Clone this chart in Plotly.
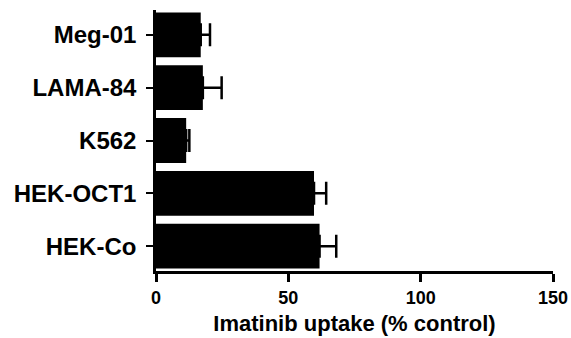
import plotly.graph_objects as go

categories = ["HEK-Co", "HEK-OCT1", "K562", "LAMA-84", "Meg-01"]
uptake = [61.8, 59.7, 11.4, 17.7, 16.9]
err_plus = [6.3, 4.6, 1.2, 7.1, 3.5]
err_minus = [0, 0, 0, 0, 0]
x_ticks = [0, 50, 100, 150]

FONT = "Liberation Sans, Arial, sans-serif"

fig = go.Figure(go.Bar(
    x=uptake, y=categories, orientation="h",
    marker=dict(color="black", line=dict(width=0)),
    error_x=dict(type="data", symmetric=False, array=err_plus, arrayminus=err_minus,
                 color="black", thickness=2.5, width=11.5),
))

fig.update_layout(
    width=571, height=338,
    margin=dict(l=156, r=18, t=10, b=67),
    paper_bgcolor="white", plot_bgcolor="white",
    bargap=0.15, showlegend=False,
    font=dict(family=FONT, color="black"),
)
fig.update_xaxes(
    range=[0, 150], tickvals=x_ticks, ticktext=[str(v) for v in x_ticks],
    automargin=False,
    showgrid=False, zeroline=False,
    showline=True, linecolor="black", linewidth=2.5,
    ticks="outside", ticklen=8, tickwidth=2.5, tickcolor="black",
    tickfont=dict(family=FONT, size=18, color="black", weight="bold"),
    ticklabelstandoff=1,
    title=dict(text="<b>Imatinib uptake (% control)</b>", font=dict(family=FONT, size=22, color="black"), standoff=9),
)
fig.update_yaxes(
    type="category", categoryorder="array", categoryarray=categories,
    range=[-0.47, 4.47], automargin=False,
    showgrid=False, zeroline=False,
    showline=True, linecolor="black", linewidth=2.5,
    ticks="outside", ticklen=7, tickwidth=2, tickcolor="black",
    tickfont=dict(family=FONT, size=24, color="black", weight="bold"),
    ticklabelstandoff=5,
)

fig.write_html("out.html", config={"displayModeBar": False},
               post_script="document.body.style.margin='0px';document.body.style.padding='0px';")
